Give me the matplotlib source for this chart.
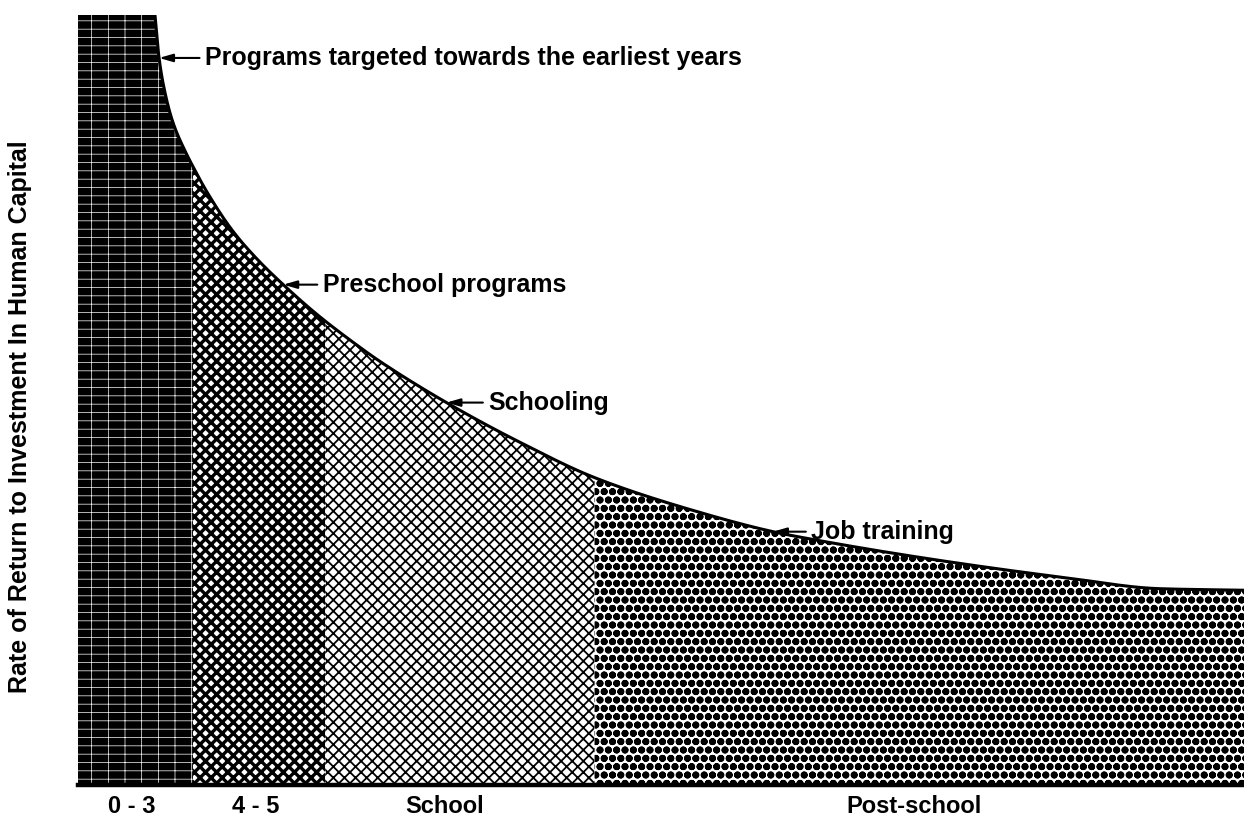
import matplotlib
matplotlib.use("Agg")
import matplotlib.pyplot as plt
import numpy as np

plt.rcParams["font.family"] = ["Liberation Sans", "DejaVu Sans"]
plt.rcParams["font.weight"] = "bold"

# curve (x: 0-100 along the age axis, y: 0-100 rate of return)
curve_x = [6.60, 6.95, 7.46, 8.15, 9.35, 9.86, 11.06, 13.29, 15.35, 17.58, 20.50,
           23.58, 25.90, 31.90, 37.91, 44.34, 53.34, 59.61, 61.92, 73.33, 84.82,
           92.80, 100.0]
curve_y = [100.0, 94.4, 89.9, 86.0, 81.8, 80.3, 77.0, 71.9, 68.3, 65.0, 61.1,
           57.5, 55.0, 49.4, 44.5, 39.9, 35.4, 32.9, 32.2, 29.3, 26.9,
           25.5, 25.3]
top_level = 100.0

stage_labels = ["0 - 3", "4 - 5", "School", "Post-school"]
stage_edges = [0.0, 9.86, 21.2, 44.3, 100.0]
label_pos = [4.6, 15.2, 31.4, 71.7]

notes = ["Programs targeted towards the earliest years", "Preschool programs",
         "Schooling", "Job training"]
note_x = [6.95, 17.6, 31.6, 59.6]
note_text_x = [10.9, 21.0, 35.2, 62.9]

# facecolor, hatch colour, hatch, hatch linewidth
styles = [
    ("black", "white", "+-", 0.5),
    ("white", "black", "xxx", 2.4),
    ("white", "black", "///\\\\\\", 1.3),
    ("white", "black", "oo", 2.6),
]


def smooth(x, xp, fp):
    # monotone cubic (Fritsch-Carlson) through the read points, flat before the first one
    xp = np.asarray(xp, float)
    fp = np.asarray(fp, float)
    h = np.diff(xp)
    d = np.diff(fp) / h
    m = np.zeros_like(fp)
    m[0], m[-1] = d[0], d[-1]
    for k in range(1, len(xp) - 1):
        if d[k - 1] * d[k] <= 0:
            m[k] = 0.0
        else:
            w1 = 2 * h[k] + h[k - 1]
            w2 = h[k] + 2 * h[k - 1]
            m[k] = (w1 + w2) / (w1 / d[k - 1] + w2 / d[k])
    x = np.asarray(x, float)
    xc = np.clip(x, xp[0], xp[-1])
    idx = np.clip(np.searchsorted(xp, xc) - 1, 0, len(xp) - 2)
    t = (xc - xp[idx]) / h[idx]
    h00 = 2 * t**3 - 3 * t**2 + 1
    h10 = t**3 - 2 * t**2 + t
    h01 = -2 * t**3 + 3 * t**2
    h11 = t**3 - t**2
    y = h00 * fp[idx] + h10 * h[idx] * m[idx] + h01 * fp[idx + 1] + h11 * h[idx] * m[idx + 1]
    return np.where(x < xp[0], top_level, y)


fig = plt.figure(figsize=(12.44, 8.23), dpi=100)
ax = fig.add_axes([0.0627, 0.046, 0.9373, 0.936])
ax.set_xlim(0, 100)
ax.set_ylim(0, 100)

for i, (fc, hc, hatch, hlw) in enumerate(styles):
    xs = np.linspace(stage_edges[i], stage_edges[i + 1], 600)
    ys = smooth(xs, curve_x, curve_y)
    with plt.rc_context({"hatch.linewidth": hlw}):
        poly = ax.fill_between(xs, 0, ys, facecolor=fc, edgecolor=hc, hatch=hatch, linewidth=0)
        if hasattr(poly, "set_hatch_linewidth"):
            poly.set_hatch_linewidth(hlw)

xs = np.linspace(curve_x[0], 100, 1500)
ax.plot(xs, smooth(xs, curve_x, curve_y), color="black", lw=2.2, solid_capstyle="butt")
ax.axhline(0, color="black", lw=3.2, clip_on=False)

for txt, tx, lx in zip(notes, note_x, note_text_x):
    ty = float(smooth([tx], curve_x, curve_y)[0])
    ax.annotate(txt, xy=(tx, ty), xytext=(lx, ty), fontsize=18, va="center", ha="left",
                arrowprops=dict(arrowstyle="-|>,head_length=0.45,head_width=0.13",
                                color="black", lw=1.5, shrinkA=2, shrinkB=0))

for lab, lx in zip(stage_labels, label_pos):
    ax.text(lx, -2.8, lab, fontsize=17, ha="center", va="center", clip_on=False)

ax.text(-5.0, 47.8, "Rate of Return to Investment In Human Capital", fontsize=18,
        rotation=90, ha="center", va="center", clip_on=False)

ax.set_xticks([])
ax.set_yticks([])
for side in ["top", "right", "left", "bottom"]:
    ax.spines[side].set_visible(False)

fig.savefig("out.png", dpi=100)
